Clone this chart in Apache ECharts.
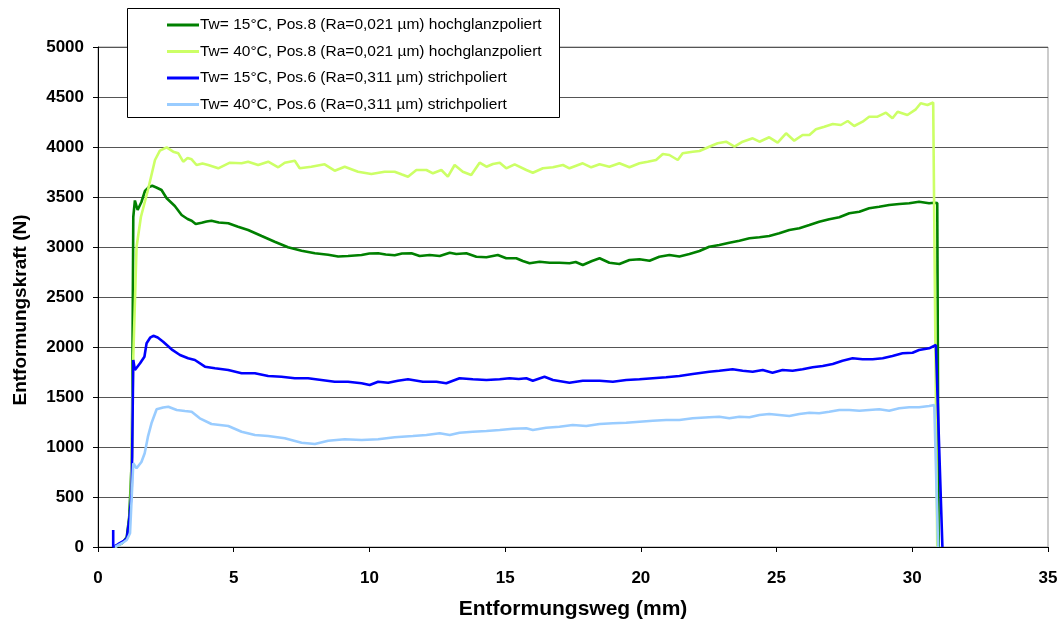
<!DOCTYPE html>
<html>
<head>
<meta charset="utf-8">
<script src="https://cdn.jsdelivr.net/npm/echarts@6/dist/echarts.min.js"></script>
<style>
  html, body { margin: 0; padding: 0; background: #fff; }
  #chart { width: 1061px; height: 623px; }
</style>
</head>
<body>
<div id="chart"></div>
<script>
// Entformungskraft über Entformungsweg, [Weg in mm, Kraft in N]
const seriesNames = [
  'Tw= 15°C, Pos.8 (Ra=0,021 µm) hochglanzpoliert',
  'Tw= 40°C, Pos.8 (Ra=0,021 µm) hochglanzpoliert',
  'Tw= 15°C, Pos.6 (Ra=0,311 µm) strichpoliert',
  'Tw= 40°C, Pos.6 (Ra=0,311 µm) strichpoliert'
];
const seriesColors = ['#008000', '#CCFF66', '#0000FF', '#99CCFF'];

const xTicks = [0, 5, 10, 15, 20, 25, 30, 35];
const yTicks = [0, 500, 1000, 1500, 2000, 2500, 3000, 3500, 4000, 4500, 5000];

const pos8Tw15 = [
  [0.60, 0], [0.90, 40], [1.06, 100], [1.15, 300], [1.25, 900], [1.30, 3300], [1.36, 3465],
  [1.46, 3370], [1.60, 3450], [1.73, 3560], [1.88, 3600], [2.00, 3612], [2.15, 3595],
  [2.34, 3570], [2.53, 3487], [2.83, 3410], [3.08, 3320], [3.30, 3280], [3.45, 3263],
  [3.60, 3230], [3.82, 3243], [4.00, 3255], [4.18, 3263], [4.45, 3245], [4.80, 3237],
  [5.16, 3203], [5.53, 3170], [6.03, 3110], [6.51, 3053], [7.00, 2997], [7.50, 2963],
  [7.99, 2937], [8.48, 2923], [8.85, 2905], [9.21, 2910], [9.71, 2920], [10.00, 2935],
  [10.32, 2937], [10.60, 2925], [10.93, 2917], [11.20, 2935], [11.55, 2937], [11.85, 2910],
  [12.22, 2920], [12.59, 2910], [12.96, 2943], [13.20, 2930], [13.57, 2937], [13.94, 2903],
  [14.31, 2897], [14.73, 2920], [15.04, 2887], [15.41, 2887], [15.65, 2860], [15.90, 2837],
  [16.27, 2853], [16.64, 2843], [17.00, 2843], [17.37, 2837], [17.60, 2850], [17.86, 2820],
  [18.20, 2860], [18.48, 2887], [18.84, 2843], [19.21, 2830], [19.58, 2870], [19.95, 2877],
  [20.32, 2863], [20.68, 2903], [21.05, 2920], [21.42, 2905], [21.79, 2930], [22.16, 2960],
  [22.52, 3003], [22.89, 3020], [23.26, 3043], [23.63, 3063], [24.00, 3087], [24.37, 3097],
  [24.73, 3110], [25.10, 3137], [25.47, 3170], [25.84, 3187], [26.21, 3220], [26.57, 3253],
  [26.94, 3277], [27.31, 3297], [27.68, 3337], [28.05, 3353], [28.41, 3387], [28.78, 3403],
  [29.15, 3420], [29.52, 3430], [29.89, 3437], [30.25, 3453], [30.62, 3437], [30.81, 3443],
  [30.92, 3440], [30.97, 0]
];

const pos8Tw40 = [
  [0.60, 0], [0.90, 40], [1.10, 100], [1.20, 400], [1.30, 1900], [1.42, 3000], [1.58, 3300],
  [1.84, 3570], [2.10, 3870], [2.28, 3963], [2.53, 3997], [2.77, 3953], [2.96, 3937],
  [3.14, 3853], [3.30, 3890], [3.45, 3877], [3.63, 3820], [3.85, 3835], [4.06, 3820],
  [4.43, 3787], [4.86, 3843], [5.29, 3837], [5.53, 3853], [5.90, 3820], [6.27, 3853],
  [6.64, 3797], [6.88, 3843], [7.25, 3863], [7.43, 3787], [7.86, 3803], [8.35, 3827],
  [8.72, 3763], [9.09, 3803], [9.58, 3753], [10.07, 3730], [10.56, 3753], [10.93, 3753],
  [11.20, 3725], [11.42, 3703], [11.73, 3770], [12.10, 3770], [12.34, 3737], [12.65, 3770],
  [12.89, 3703], [13.14, 3820], [13.44, 3753], [13.75, 3720], [14.06, 3843], [14.31, 3803],
  [14.55, 3830], [14.80, 3843], [15.04, 3787], [15.35, 3827], [15.78, 3770], [16.02, 3743],
  [16.39, 3787], [16.76, 3797], [17.13, 3820], [17.37, 3787], [17.86, 3837], [18.17, 3797],
  [18.48, 3827], [18.84, 3803], [19.21, 3837], [19.58, 3797], [19.95, 3837], [20.25, 3853],
  [20.56, 3870], [20.81, 3930], [21.05, 3920], [21.36, 3870], [21.54, 3937], [21.91, 3953],
  [22.16, 3960], [22.52, 4003], [22.83, 4037], [23.14, 4053], [23.45, 4003], [23.75, 4053],
  [24.12, 4087], [24.37, 4053], [24.73, 4097], [25.04, 4043], [25.35, 4137], [25.65, 4063],
  [25.96, 4120], [26.21, 4120], [26.45, 4177], [26.76, 4203], [27.07, 4230], [27.37, 4220],
  [27.62, 4260], [27.86, 4210], [28.17, 4253], [28.41, 4303], [28.72, 4303], [29.03, 4343],
  [29.27, 4287], [29.46, 4353], [29.82, 4320], [30.13, 4377], [30.31, 4437], [30.56, 4420],
  [30.77, 4445], [30.92, 0]
];

const pos6Tw15 = [
  [0.56, 170], [0.56, 0], [0.75, 30], [0.95, 60], [1.06, 87], [1.15, 270], [1.24, 540],
  [1.30, 1870], [1.36, 1770], [1.55, 1837], [1.71, 1903], [1.79, 2037], [1.92, 2093],
  [2.04, 2112], [2.20, 2095], [2.40, 2053], [2.71, 1977], [3.02, 1920], [3.32, 1887],
  [3.57, 1870], [3.94, 1803], [4.31, 1787], [4.80, 1770], [5.29, 1737], [5.78, 1737],
  [6.27, 1710], [6.76, 1703], [7.25, 1687], [7.74, 1687], [8.23, 1670], [8.72, 1653],
  [9.21, 1653], [9.71, 1637], [10.01, 1620], [10.32, 1653], [10.69, 1643], [11.05, 1663],
  [11.42, 1677], [11.97, 1653], [12.47, 1653], [12.83, 1637], [13.32, 1687], [13.81, 1677],
  [14.31, 1670], [14.80, 1677], [15.16, 1687], [15.50, 1680], [15.78, 1687], [16.02, 1663],
  [16.45, 1703], [16.76, 1670], [17.37, 1643], [17.86, 1663], [18.48, 1663], [18.97, 1653],
  [19.46, 1670], [19.95, 1677], [20.44, 1687], [20.93, 1697], [21.42, 1710], [21.91, 1730],
  [22.52, 1753], [22.89, 1763], [23.38, 1777], [23.75, 1763], [24.12, 1753], [24.49, 1770],
  [24.85, 1743], [25.22, 1770], [25.59, 1763], [25.96, 1777], [26.33, 1797], [26.70, 1810],
  [27.07, 1830], [27.43, 1863], [27.80, 1887], [28.17, 1877], [28.54, 1877], [28.91, 1887],
  [29.27, 1910], [29.64, 1937], [30.01, 1943], [30.25, 1970], [30.62, 1987], [30.87, 2020],
  [30.99, 1000], [31.11, 0]
];

const pos6Tw40 = [
  [0.63, 0], [0.90, 40], [1.06, 70], [1.18, 137], [1.30, 837], [1.42, 787], [1.60, 850],
  [1.72, 937], [1.84, 1103], [1.97, 1237], [2.16, 1377], [2.40, 1395], [2.59, 1403],
  [2.90, 1370], [3.20, 1360], [3.45, 1353], [3.75, 1287], [4.18, 1230], [4.49, 1220],
  [4.80, 1210], [5.29, 1153], [5.78, 1120], [6.27, 1110], [6.88, 1087], [7.50, 1043],
  [7.99, 1030], [8.48, 1063], [9.09, 1077], [9.71, 1070], [10.32, 1077], [10.93, 1097],
  [11.60, 1110], [12.10, 1120], [12.59, 1137], [12.96, 1120], [13.32, 1143], [13.81, 1153],
  [14.31, 1160], [14.80, 1170], [15.29, 1183], [15.78, 1187], [16.02, 1170], [16.51, 1193],
  [17.00, 1203], [17.49, 1220], [17.99, 1210], [18.48, 1230], [18.97, 1237], [19.46, 1243],
  [19.95, 1253], [20.44, 1263], [20.93, 1270], [21.42, 1270], [21.91, 1287], [22.52, 1297],
  [22.89, 1303], [23.26, 1287], [23.63, 1303], [24.00, 1297], [24.37, 1320], [24.73, 1330],
  [25.10, 1320], [25.47, 1310], [25.84, 1330], [26.21, 1343], [26.57, 1337], [26.94, 1353],
  [27.31, 1370], [27.68, 1370], [28.05, 1363], [28.41, 1370], [28.78, 1377], [29.15, 1363],
  [29.52, 1387], [29.89, 1397], [30.25, 1397], [30.62, 1410], [30.81, 1420], [30.95, 0]
];

const seriesData = [pos8Tw15, pos8Tw40, pos6Tw15, pos6Tw40];

const FONT = '"Liberation Sans", Arial, sans-serif';
const chart = echarts.init(document.getElementById('chart'), null, { renderer: 'canvas' });

chart.setOption({
  backgroundColor: '#ffffff',
  animation: false,
  textStyle: { fontFamily: FONT, color: '#000' },
  grid: {
    left: 98, right: 13, top: 47, bottom: 76,
    outerBoundsMode: 'none', containLabel: false,
    show: true, borderColor: '#999999', borderWidth: 1, backgroundColor: 'transparent'
  },
  graphic: [{
    type: 'rect',
    left: 127, top: 8, z: 90,
    shape: { width: 432, height: 109 },
    style: { fill: '#ffffff', stroke: '#000000', lineWidth: 1 }
  }],
  legend: {
    left: 167, top: 17, orient: 'vertical', z: 100,
    itemWidth: 32, itemHeight: 14, itemGap: 10.5,
    padding: 0,
    icon: 'path://M0,0 L32,0 L32,3 L0,3 Z',
    textStyle: { fontFamily: FONT, fontSize: 15.5, color: '#000', padding: [0, 0, 0, -4] },
    data: seriesNames
  },
  xAxis: {
    type: 'value', min: xTicks[0], max: xTicks[xTicks.length - 1], interval: 5,
    name: 'Entformungsweg (mm)', nameLocation: 'middle', nameGap: 52,
    nameTextStyle: { fontFamily: FONT, fontSize: 21, fontWeight: 'bold', color: '#000' },
    axisLine: { show: true, onZero: false, lineStyle: { color: '#000', width: 1 } },
    axisTick: { show: true, length: 5, lineStyle: { color: '#000' } },
    axisLabel: {
      fontFamily: FONT, fontSize: 17, fontWeight: 'bold', color: '#000', margin: 23,
      formatter: v => String(v)
    },
    splitLine: { show: false }
  },
  yAxis: {
    type: 'value', min: yTicks[0], max: yTicks[yTicks.length - 1], interval: 500,
    name: 'Entformungskraft (N)', nameLocation: 'middle', nameGap: 68,
    nameTextStyle: {
      fontFamily: FONT, fontSize: 19, fontWeight: 'bold', color: '#000',
      padding: [0, 26, 0, 0]
    },
    axisLine: { show: true, onZero: false, lineStyle: { color: '#000', width: 1 } },
    axisTick: { show: true, length: 5, lineStyle: { color: '#000' } },
    axisLabel: {
      fontFamily: FONT, fontSize: 17, fontWeight: 'bold', color: '#000', margin: 14,
      formatter: v => String(v)
    },
    splitLine: { show: true, lineStyle: { color: '#555555', width: 1.2 } }
  },
  series: seriesData.map((d, i) => ({
    name: seriesNames[i],
    type: 'line',
    data: d,
    symbol: 'none',
    smooth: false,
    color: seriesColors[i],
    lineStyle: { color: seriesColors[i], width: 2.6 },
    itemStyle: { color: seriesColors[i] },
    z: 2 + i
  }))
});
</script>
</body>
</html>
